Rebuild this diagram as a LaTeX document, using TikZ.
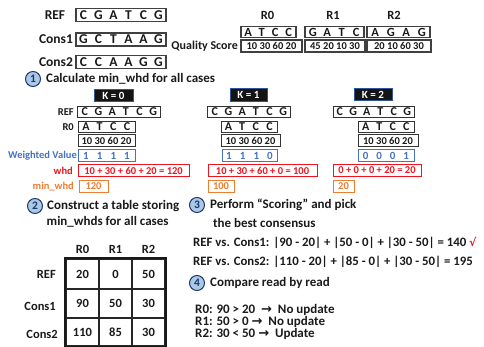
\documentclass[tikz,border=0pt]{standalone}
\usepackage{fontspec}
\setmainfont{Carlito}
\newfontfamily\symfont{DejaVu Sans}

\definecolor{ink}{HTML}{1A1A1A}
\definecolor{wblue}{HTML}{4472C4}
\definecolor{wred}{HTML}{F0141E}
\definecolor{worange}{HTML}{ED7D31}
\definecolor{circfill}{HTML}{A9C8EA}
\definecolor{circline}{HTML}{203864}
\definecolor{kline}{HTML}{2F5597}

% letters of a sequence set on a fixed pitch
\newcommand\pitched[2]{\foreach \lt in {#2}{\makebox[#1]{\lt}}}
\newcommand\fs[1]{\fontsize{#1}{#1}\selectfont}
\newcommand\arr{{\symfont\fontsize{13}{13}\selectfont →}}

\tikzset{
  every node/.style={font=\bfseries, text=ink, inner sep=0pt},
  toplab/.style={font=\bfseries\fs{13.5}},
  topbox/.style={draw=black!75, line width=1.2pt, font=\bfseries\fs{13.5}, minimum height=13pt},
  readbox/.style={draw=black!75, line width=1.2pt, font=\bfseries\fs{12.5}, minimum height=11pt},
  qualbox/.style={draw=black!75, line width=1.2pt, font=\bfseries\fs{10.5}, minimum height=12pt},
  steptxt/.style={font=\bfseries\fs{13}},
  stepnum/.style={circle, fill=circfill, draw=circline, line width=1pt, minimum size=15pt, font=\bfseries\fs{11.5}, text=circline},
  kbox/.style={fill=black!92, draw=kline, line width=1pt, text=white, font=\bfseries\fs{11}, minimum height=12.5pt},
  klab/.style={font=\bfseries\fs{10.5}},
  kseq/.style={draw=black!80, line width=1pt, font=\bfseries\fs{12}, minimum height=11pt},
  kqual/.style={draw=black!80, line width=1pt, font=\bfseries\fs{10.5}, minimum height=12pt},
  wlab/.style={font=\bfseries\fs{10.5}, text=wblue},
  wbox/.style={draw=wblue, line width=1pt, font=\bfseries\fs{11}, text=wblue, minimum height=12pt},
  hlab/.style={font=\bfseries\fs{10.5}, text=wred},
  hbox/.style={draw=wred, line width=1pt, font=\bfseries\fs{10.5}, text=wred, minimum height=12pt},
  mlab/.style={font=\bfseries\fs{10.5}, text=worange},
  mbox/.style={draw=worange, line width=1pt, font=\bfseries\fs{10.5}, text=worange, minimum height=11.5pt},
  thead/.style={font=\bfseries\fs{12.5}},
  cell/.style={draw=black!85, line width=1.3pt, minimum width=33pt, font=\bfseries\fs{12.5}},
  scoretxt/.style={font=\bfseries\fs{12.8}},
  ruletxt/.style={font=\bfseries\fs{13}},
}

\begin{document}
\begin{tikzpicture}[x=1pt,y=-1pt]
\useasboundingbox[fill=white] (0,0) rectangle (484,347);

% ---- reference and consensus sequences
\node[toplab] (lref) at (55,15) {REF};
\node[topbox, minimum width=90pt] (sref) at (121,15) {\pitched{15pt}{C,G,A,T,C,G}};
\node[toplab] (lc1) at (56,39) {Cons1};
\node[topbox, minimum width=90pt] (sc1) at (121,39.5) {\pitched{15pt}{G,C,T,A,A,G}};
\node[toplab] (lc2) at (56,62) {Cons2};
\node[topbox, minimum width=90pt] (sc2) at (121,62) {\pitched{15pt}{C,C,A,A,G,G}};

% ---- reads with quality scores
\node[toplab, font=\bfseries\fs{12.5}] (lr0) at (267.5,15) {R0};
\node[toplab, font=\bfseries\fs{12.5}] (lr1) at (333,15) {R1};
\node[toplab, font=\bfseries\fs{12.5}] (lr2) at (394,15) {R2};
\node[readbox, minimum width=55pt] (r0) at (268.5,32) {\pitched{13.5pt}{A,T,C,C}};
\node[readbox, minimum width=59pt] (r1) at (334.5,32) {\pitched{14.5pt}{G,A,T,C}};
\node[readbox, minimum width=63pt] (r2) at (398.5,32) {\pitched{15.5pt}{A,G,A,G}};
\node[toplab, font=\bfseries\fs{12}, anchor=east] (lq) at (238,46) {Quality Score};
\node[qualbox, minimum width=61pt] (q0) at (271.5,46) {10 30 60 20};
\node[qualbox, minimum width=60pt] (q1) at (335,46) {45 20 10 30};
\node[qualbox, minimum width=64pt] (q2) at (399,46) {20 10 60 30};

% ---- step 1
\node[stepnum] (c1) at (33,79) {1};
\node[steptxt, anchor=west] (t1) at (46,79) {Calculate min\_whd for all cases};

% K = 0
\node[kbox, minimum width=39pt] (k0) at (113.5,95.5) {K = 0};
\node[klab, anchor=east] (k0refl) at (74,112) {REF};
\node[kseq, minimum width=82pt] (k0ref) at (119,112) {\pitched{13.67pt}{C,G,A,T,C,G}};
\node[klab, anchor=east] (k0rl) at (74,127) {R0};
\node[kseq, minimum width=57pt] (k0r) at (106.5,127) {\pitched{13.67pt}{A,T,C,C}};
\node[kqual, minimum width=57pt] (k0q) at (106.5,141) {10 30 60 20};
\node[wlab, anchor=east] (k0wl) at (77,156) {Weighted Value};
\node[wbox, minimum width=57pt] (k0w) at (106.5,156) {\pitched{13.67pt}{1,1,1,1}};
\node[hlab, anchor=east] (k0hl) at (73,171) {whd};
\node[hbox, minimum width=111pt] (k0h) at (133.5,171) {10 + 30 + 60 + 20 = 120};
\node[mlab, anchor=east] (k0ml) at (74,186.5) {min\_whd};
\node[mbox, minimum width=29pt] (k0m) at (93.5,186.5) {120};

% K = 1
\node[kbox, minimum width=37pt] (k1) at (248.5,95) {K = 1};
\node[kseq, minimum width=82pt] (k1ref) at (249,112) {\pitched{13.67pt}{C,G,A,T,C,G}};
\node[kseq, minimum width=56pt] (k1r) at (249,127) {\pitched{13.67pt}{A,T,C,C}};
\node[kqual, minimum width=59pt] (k1q) at (250.5,141) {10 30 60 20};
\node[wbox, minimum width=55pt] (k1w) at (249.5,156) {\pitched{13.67pt}{1,1,1,0}};
\node[hbox, minimum width=109pt] (k1h) at (262.5,170.5) {10 + 30 + 60 + 0 = 100};
\node[mbox, minimum width=26pt] (k1m) at (221,186.5) {100};

% K = 2
\node[kbox, minimum width=38pt] (k2) at (373,94.5) {K = 2};
\node[kseq, minimum width=81pt] (k2ref) at (373.5,112) {\pitched{13.5pt}{C,G,A,T,C,G}};
\node[kseq, minimum width=56pt] (k2r) at (386,127) {\pitched{13.5pt}{A,T,C,C}};
\node[kqual, minimum width=60pt] (k2q) at (388,141) {10 30 60 20};
\node[wbox, minimum width=56pt] (k2w) at (386,156) {\pitched{13.5pt}{0,0,0,1}};
\node[hbox, minimum width=88pt] (k2h) at (377,170.5) {0 + 0 + 0 + 20 = 20};
\node[mbox, minimum width=21pt] (k2m) at (343.5,186.5) {20};

% ---- step 2: table of min_whd values
\node[stepnum] (c2) at (35,206) {2};
\node[steptxt, anchor=west] (t2a) at (47,206) {Construct a table storing};
\node[steptxt, anchor=west] (t2b) at (46.5,222) {min\_whds for all cases};

\node[thead] (h0) at (82.5,249) {R0};
\node[thead] (h1) at (115.5,249) {R1};
\node[thead] (h2) at (148.5,249) {R2};
\node[thead, anchor=east] (v1) at (56,274) {REF};
\node[thead, anchor=east] (v2) at (56,306) {Cons1};
\node[thead, anchor=east] (v3) at (58,334) {Cons2};

\node[cell, minimum height=30pt] (c11) at (82.5,274) {20};
\node[cell, minimum height=30pt] (c12) at (115.5,274) {0};
\node[cell, minimum height=30pt] (c13) at (148.5,274) {50};
\node[cell, minimum height=29pt] (c21) at (82.5,303.5) {90};
\node[cell, minimum height=29pt] (c22) at (115.5,303.5) {50};
\node[cell, minimum height=29pt] (c23) at (148.5,303.5) {30};
\node[cell, minimum height=28pt] (c31) at (82.5,332) {110};
\node[cell, minimum height=28pt] (c32) at (115.5,332) {85};
\node[cell, minimum height=28pt] (c33) at (148.5,332) {30};
\draw[black!90, line width=2pt] (c11.north west) rectangle (c33.south east);

% ---- step 3: scoring
\node[stepnum] (c3) at (197,205) {3};
\node[steptxt, anchor=west] (t3a) at (210,205) {Perform “Scoring” and pick};
\node[steptxt, anchor=west] (t3b) at (213,223) {the best consensus};
\node[scoretxt, anchor=west] (s1) at (193,243) {REF vs. Cons1: |90 - 20| + |50 - 0| + |30 - 50| = 140 \textcolor{wred}{\symfont\fs{11}√}};
\node[scoretxt, anchor=west] (s2) at (193,262) {REF vs. Cons2: |110 - 20| + |85 - 0| + |30 - 50| = 195};

% ---- step 4: read-by-read comparison
\node[stepnum] (c4) at (197,283) {4};
\node[steptxt, anchor=west] (t4) at (210,283) {Compare read by read};
\node[ruletxt, anchor=west] (u0) at (195,310) {R0: 90 > 20 \ \arr\ \ No update};
\node[ruletxt, anchor=west] (u1) at (195,322) {R1: 50 > 0 \arr\ \ No update};
\node[ruletxt, anchor=west] (u2) at (195,334) {R2: 30 < 50 \arr\ \ Update};
\end{tikzpicture}
\end{document}
